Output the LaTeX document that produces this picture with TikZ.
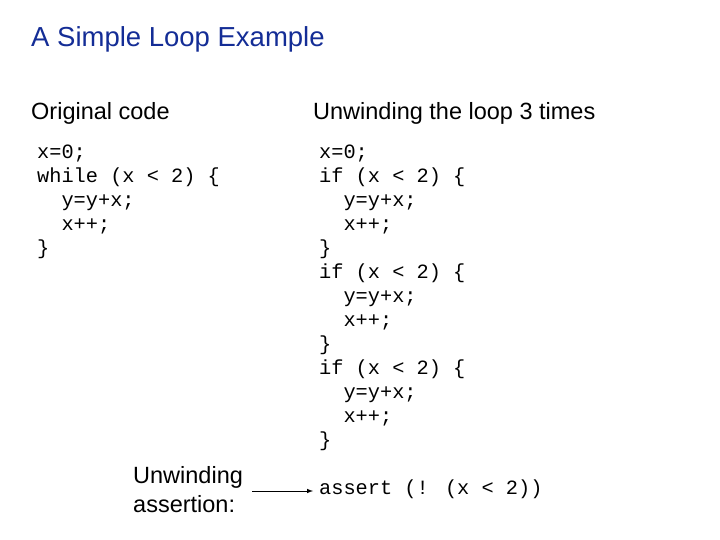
\documentclass[tikz,border=0pt]{standalone}
\usepackage{fontspec}
\setmainfont{Liberation Sans}
\newfontfamily\cmono{Liberation Mono}
\definecolor{tblue}{RGB}{20,45,150}
\begin{document}
\begin{tikzpicture}[x=1pt,y=-1pt,
  code/.style={anchor=west,inner sep=0,font=\cmono\fontsize{20.3}{24}\selectfont,text height=1.6ex,text depth=0.4ex},
  txt/.style={anchor=west,inner sep=0,font=\fontsize{23.5}{28}\selectfont,text height=1.5ex,text depth=0.4ex,align=left}]
\useasboundingbox[fill=white] (0,0) rectangle (720,540);
\node[anchor=west,inner sep=0,font=\fontsize{27.5}{32}\selectfont,text=tblue] (title) at (31,39) {A Simple Loop Example};
\node[txt] (h1) at (31,117) {Original code};
\node[txt] (h2) at (313,117) {Unwinding the loop 3 times};
\foreach \t [count=\i] in {x=0;,while (x < 2) \{,\ \ y=y+x;,\ \ x++;,\}}
  \node[code] (l\i) at (37,155+24*\i-24) {\t};
\foreach \t [count=\i] in {x=0;,if (x < 2) \{,\ \ y=y+x;,\ \ x++;,\},if (x < 2) \{,\ \ y=y+x;,\ \ x++;,\},if (x < 2) \{,\ \ y=y+x;,\ \ x++;,\}}
  \node[code] (r\i) at (319,155+24*\i-24) {\t};
\node[anchor=west,inner sep=0,font=\fontsize{23.5}{29}\selectfont,align=left] (ua) at (133,490) {Unwinding\\assertion:};
\node[code] (as) at (319,491) {assert (! (x < 2))};
\draw[-latex,line width=1pt] (252,491) -- ([xshift=-6pt]as.west);
\end{tikzpicture}
\end{document}
